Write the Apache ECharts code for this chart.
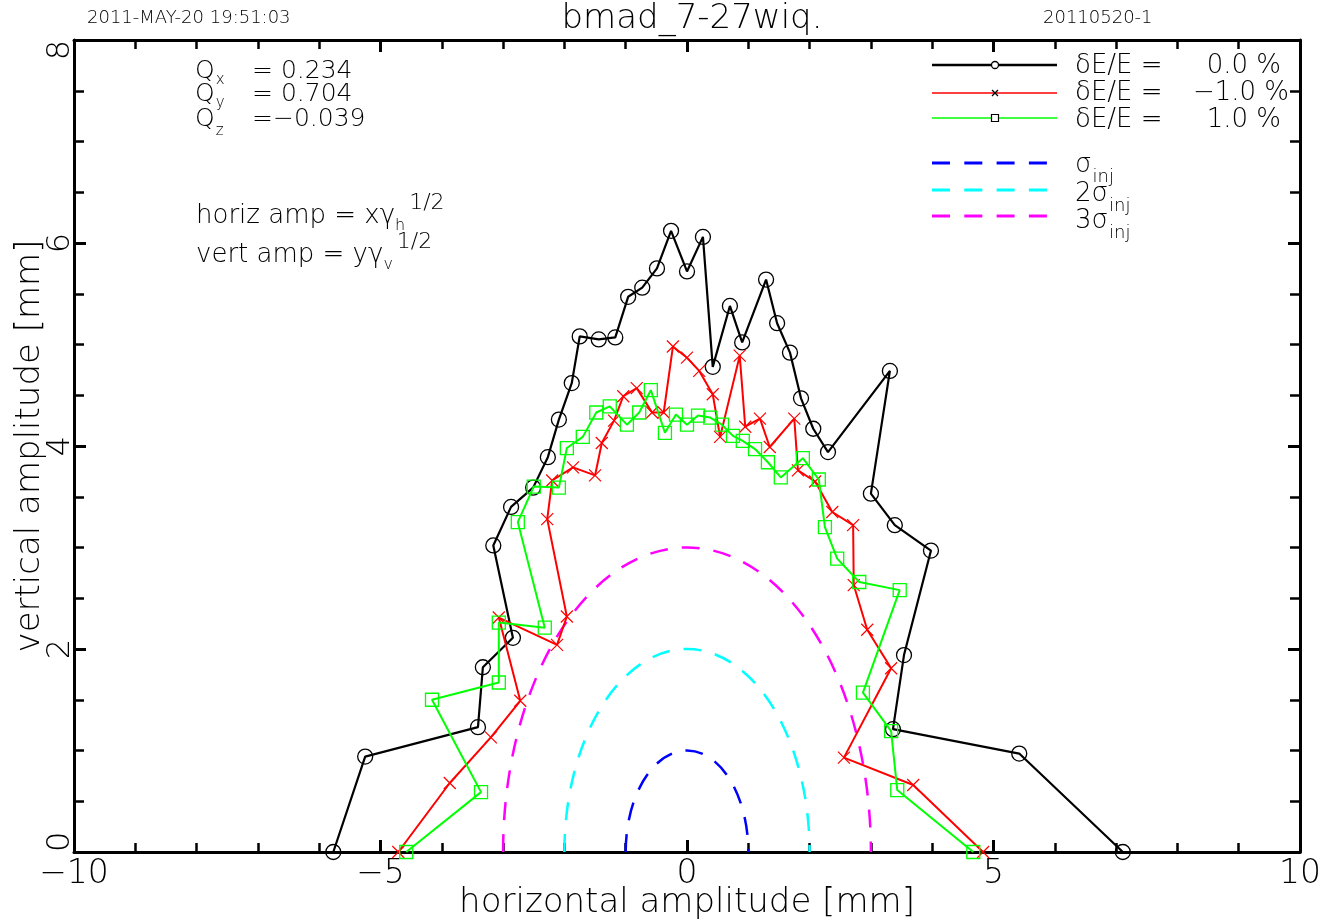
<!DOCTYPE html>
<html>
<head>
<meta charset="utf-8">
<script src="https://cdn.jsdelivr.net/npm/echarts@6/dist/echarts.min.js"></script>
<style>html,body{margin:0;padding:0;background:#fff}#chart{width:1324px;height:922px}</style>
</head>
<body>
<div id="chart"></div>
<script>
// ---- data ----
const nominalX = [-5.77,-5.25,-3.41,-3.33,-2.84,-3.16,-2.87,-2.51,-2.27,-2.09,-1.88,-1.75,-1.44,-1.17,-0.96,-0.73,-0.49,-0.26,0.00,0.26,0.42,0.70,0.90,1.29,1.47,1.68,1.86,2.06,2.30,3.31,3.00,3.39,3.98,3.54,3.36,5.42,7.11];
const nominalY = [0.00,0.94,1.23,1.82,2.11,3.02,3.40,3.59,3.89,4.26,4.62,5.08,5.05,5.07,5.47,5.56,5.75,6.12,5.72,6.06,4.78,5.38,5.02,5.64,5.21,4.92,4.47,4.17,3.94,4.74,3.53,3.22,2.97,1.94,1.21,0.97,0.00];

const minusX = [-4.71,-3.87,-3.20,-2.72,-3.07,-2.12,-1.96,-2.28,-2.20,-1.86,-1.50,-1.39,-1.19,-1.04,-0.82,-0.57,-0.38,-0.23,0.00,0.20,0.42,0.54,0.86,0.95,1.19,1.35,1.75,1.81,2.09,2.37,2.71,2.72,2.94,3.33,2.56,3.69,4.83];
const minusY = [0.00,0.68,1.13,1.49,2.31,2.04,2.32,3.28,3.66,3.79,3.71,4.03,4.25,4.49,4.57,4.33,4.33,4.98,4.87,4.74,4.51,4.09,4.89,4.19,4.27,3.99,4.27,3.76,3.65,3.35,3.22,2.63,2.19,1.81,0.93,0.66,0.00];

const plusX = [-4.58,-3.36,-4.16,-3.07,-3.07,-2.32,-2.76,-2.50,-2.09,-1.96,-1.70,-1.48,-1.26,-0.98,-0.78,-0.59,-0.36,-0.18,0.00,0.18,0.38,0.57,0.75,0.91,1.11,1.32,1.53,1.89,2.15,2.25,2.45,2.81,3.47,2.87,3.33,3.43,4.67];
const plusY = [0.00,0.59,1.50,1.67,2.26,2.21,3.25,3.60,3.59,3.98,4.09,4.33,4.39,4.21,4.33,4.55,4.13,4.31,4.21,4.30,4.28,4.21,4.10,4.05,3.97,3.84,3.69,3.88,3.67,3.20,2.89,2.66,2.58,1.57,1.19,0.61,0.00];

const sigmaMultiples = [1, 2, 3];
const sigmaLabels = ['σ', '2σ', '3σ'];
const energyLabels = ['0.0 %', '−1.0 %', '1.0 %'];
const tuneNames = ['x', 'y', 'z'];
const tuneValues = ['= 0.234', '= 0.704', '=−0.039'];

// ---- styling ----
const FONT = 'DejaVu Sans';
const WEIGHT = 200;
const sigmaColors = ['#0000ff', '#00ffff', '#ff00ff'];
const zip = (xs, ys) => xs.map((x, i) => [x, ys[i]]);
const minusFmt = v => (v < 0 ? '−' + Math.abs(v) : String(v));

const ctx = document.createElement('canvas').getContext('2d');
function tw(s, size) { ctx.font = WEIGHT + ' ' + size + 'px "' + FONT + '"'; return ctx.measureText(s).width; }
function txt(x, y, s, size, align) {
  return { type: 'text', x: x, y: y, silent: true,
    style: { text: s, fontSize: size, fontFamily: FONT, fontWeight: WEIGHT, fill: '#000', align: align || 'left', verticalAlign: 'middle' } };
}

const g = [];
// header texts
g.push(txt(87, 18, '2011-MAY-20 19:51:03', 18));
g.push(txt(1043, 18, '20110520-1', 18));
// tunes
const tuneY = [71, 94, 119], tuneSubY = [80, 103, 131];
tuneNames.forEach((n, i) => {
  g.push(txt(195, tuneY[i], 'Q', 25));
  g.push(txt(196 + tw('Q', 25), tuneSubY[i], n, 15));
  g.push(txt(252, tuneY[i], tuneValues[i], 25));
});
// amplitude definitions
function ampLine(y, main, sub) {
  let x = 196;
  g.push(txt(x, y, main, 26)); x += tw(main, 26);
  g.push(txt(x, y + 10, sub, 16)); x += tw(sub, 16) + 4;
  g.push(txt(x, y - 13, '1/2', 22));
}
ampLine(216, 'horiz amp = xγ', 'h');
ampLine(255, 'vert amp = yγ', 'v');

// legend
const legY = [65, 93, 118];
const legTextY = [66, 93, 120];
g.push({ type: 'line', shape: { x1: 932, y1: legY[0], x2: 1057, y2: legY[0] }, style: { stroke: '#000', lineWidth: 2.5 } });
g.push({ type: 'circle', shape: { cx: 995, cy: legY[0], r: 3.5 }, style: { fill: '#fff', stroke: '#000', lineWidth: 1.3 } });
g.push({ type: 'line', shape: { x1: 932, y1: legY[1], x2: 1057, y2: legY[1] }, style: { stroke: '#ff0000', lineWidth: 1.3 } });
g.push({ type: 'polyline', shape: { points: [[992, legY[1] - 3], [998, legY[1] + 3]] }, style: { stroke: '#000', lineWidth: 1.2 } });
g.push({ type: 'polyline', shape: { points: [[998, legY[1] - 3], [992, legY[1] + 3]] }, style: { stroke: '#000', lineWidth: 1.2 } });
g.push({ type: 'line', shape: { x1: 932, y1: legY[2], x2: 1057, y2: legY[2] }, style: { stroke: '#00ff00', lineWidth: 1.3 } });
g.push({ type: 'rect', shape: { x: 991.5, y: legY[2] - 3.5, width: 7, height: 7 }, style: { fill: '#fff', stroke: '#000', lineWidth: 1.2 } });
energyLabels.forEach((s, i) => {
  g.push(txt(1075, legTextY[i], 'δE/E =', 26));
  g.push(txt(i === 1 ? 1289 : 1281, legTextY[i], s, 26, 'right'));
});
const sigLegY = [163, 190, 216];
const sigTextY = [165, 194, 221];
sigmaLabels.forEach((s, i) => {
  g.push({ type: 'line', shape: { x1: 932, y1: sigLegY[i], x2: 1047, y2: sigLegY[i] },
    style: { stroke: sigmaColors[i], lineWidth: 3, lineDash: [18, 14.3] } });
  g.push(txt(1075, sigTextY[i], s, 26));
  g.push(txt(1075 + tw(s, 26) + 1, sigTextY[i] + 12, 'inj', 18));
});

const axisCommon = {
  type: 'value',
  axisLine: { onZero: false, lineStyle: { color: '#000', width: 3 } },
  axisTick: { inside: true, length: 12, lineStyle: { color: '#000', width: 3 } },
  splitLine: { show: false },
  minorSplitLine: { show: false }
};

const chart = echarts.init(document.getElementById('chart'), null, { renderer: 'canvas' });
chart.setOption({
  animation: false,
  backgroundColor: '#fff',
  title: {
    text: 'bmad_7-27wiq.', left: 687, top: -3, textAlign: 'center',
    textStyle: { fontFamily: FONT, fontSize: 34, fontWeight: WEIGHT, color: '#000' }
  },
  grid: { left: 74, right: 24, top: 40, bottom: 70, containLabel: false, outerBoundsMode: 'none' },
  xAxis: [
    Object.assign({}, axisCommon, {
      position: 'bottom', min: -10, max: 10, interval: 5,
      minorTick: { show: true, splitNumber: 5, length: 9, lineStyle: { color: '#000', width: 2.5 } },
      axisLabel: { fontFamily: FONT, fontWeight: WEIGHT, fontSize: 33, color: '#000', margin: 6, formatter: minusFmt },
      name: 'horizontal amplitude [mm]', nameLocation: 'middle', nameGap: 34, nameMoveOverlap: false,
      nameTextStyle: { fontFamily: FONT, fontWeight: WEIGHT, fontSize: 34, color: '#000' }
    }),
    Object.assign({}, axisCommon, {
      position: 'top', min: -10, max: 10, interval: 5,
      minorTick: { show: true, splitNumber: 5, length: 9, lineStyle: { color: '#000', width: 2.5 } },
      axisLabel: { show: false }
    })
  ],
  yAxis: [
    Object.assign({}, axisCommon, {
      position: 'left', min: 0, max: 8, interval: 2,
      minorTick: { show: true, splitNumber: 4, length: 10, lineStyle: { color: '#000', width: 2.5 } },
      axisLabel: { fontFamily: FONT, fontWeight: WEIGHT, fontSize: 32, color: '#000', margin: -3, rotate: 90, formatter: minusFmt,
        alignMinLabel: 'left', alignMaxLabel: 'right' },
      name: 'vertical amplitude [mm]', nameLocation: 'middle', nameGap: 27, nameRotate: 90, nameMoveOverlap: false,
      nameTextStyle: { fontFamily: FONT, fontWeight: WEIGHT, fontSize: 34, color: '#000' }
    }),
    Object.assign({}, axisCommon, {
      position: 'right', min: 0, max: 8, interval: 2,
      minorTick: { show: true, splitNumber: 4, length: 10, lineStyle: { color: '#000', width: 2.5 } },
      axisLabel: { show: false }
    })
  ],
  series: [
    {
      name: 'δE/E = 0.0 %', type: 'line', data: zip(nominalX, nominalY), clip: false,
      symbol: 'circle', symbolSize: 15,
      itemStyle: { color: 'rgba(0,0,0,0)', borderColor: '#000', borderWidth: 1.3 },
      lineStyle: { color: '#000', width: 2.2 }, z: 3
    },
    {
      name: 'δE/E = -1.0 %', type: 'line', data: zip(minusX, minusY), clip: false,
      symbol: 'path://M0,0L10,10M10,0L0,10', symbolSize: 12,
      itemStyle: { color: 'rgba(0,0,0,0)', borderColor: '#ff0000', borderWidth: 1.2 },
      lineStyle: { color: '#ff0000', width: 2 }, z: 4
    },
    {
      name: 'δE/E = 1.0 %', type: 'line', data: zip(plusX, plusY), clip: false,
      symbol: 'rect', symbolSize: 13,
      itemStyle: { color: 'rgba(0,0,0,0)', borderColor: '#00ff00', borderWidth: 1.3 },
      lineStyle: { color: '#00ff00', width: 2 }, z: 5
    },
    {
      name: 'sigma_inj', type: 'custom', clip: false,
      data: sigmaMultiples.map(r => [0, r]),
      encode: { x: 0, y: 1 },
      renderItem: function (params, api) {
        const r = api.value(1);
        const c = api.coord([api.value(0), 0]);
        const s = api.size([r, r]);
        const rx = s[0], ry = s[1];
        return {
          type: 'path',
          shape: { pathData: 'M ' + (c[0] - rx) + ' ' + c[1] + ' A ' + rx + ' ' + ry + ' 0 0 1 ' + (c[0] + rx) + ' ' + c[1] },
          style: { fill: 'none', stroke: sigmaColors[params.dataIndex], lineWidth: 2.5, lineDash: [18, 14] }
        };
      },
      z: 2
    }
  ],
  graphic: g
});
</script>
</body>
</html>
